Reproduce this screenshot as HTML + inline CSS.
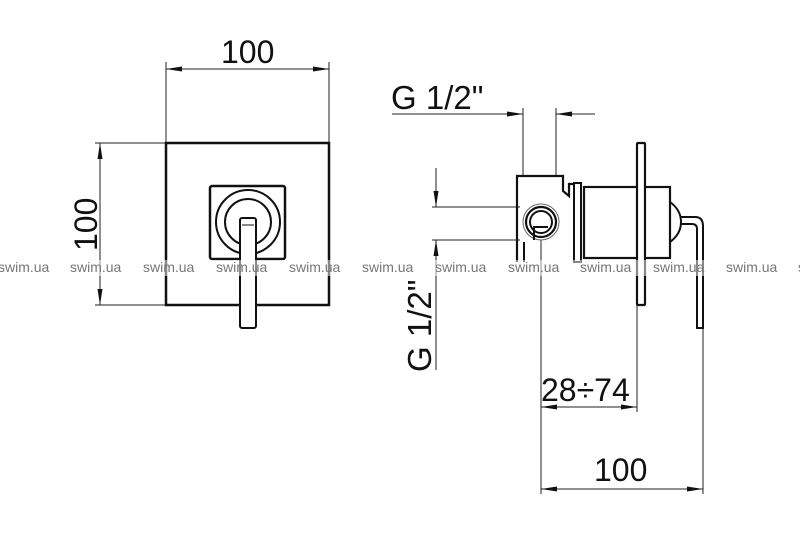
<!DOCTYPE html>
<html><head><meta charset="utf-8"><style>html,body{margin:0;padding:0;background:#fff}svg{display:block}</style></head>
<body>
<svg width="800" height="537" viewBox="0 0 800 537" xmlns="http://www.w3.org/2000/svg" font-family="Liberation Sans, sans-serif">
<defs>
<marker id="a" markerWidth="16" markerHeight="8" refX="16" refY="4" orient="auto-start-reverse" markerUnits="userSpaceOnUse">
<path d="M0,1.5 L16,4 L0,6.5 z" fill="#111"/></marker>
</defs>
<g stroke="#222" stroke-width="1" fill="none">
<line x1="166" y1="62" x2="166" y2="143"/><line x1="329" y1="62" x2="329" y2="143"/>
<line x1="166" y1="69" x2="329" y2="69" marker-start="url(#a)" marker-end="url(#a)"/>
<line x1="95" y1="143" x2="166" y2="143"/><line x1="95" y1="305" x2="166" y2="305"/>
<line x1="100" y1="143" x2="100" y2="305" marker-start="url(#a)" marker-end="url(#a)"/>
<line x1="392" y1="114" x2="523" y2="114" marker-end="url(#a)"/>
<line x1="595" y1="114" x2="556" y2="114" marker-end="url(#a)"/>
<line x1="523" y1="108" x2="523" y2="176"/><line x1="556" y1="108" x2="556" y2="176"/>
<line x1="432" y1="207" x2="520" y2="207"/><line x1="432" y1="240" x2="520" y2="240"/>
<line x1="436" y1="168" x2="436" y2="207" marker-end="url(#a)"/>
<line x1="436" y1="370" x2="436" y2="240" marker-end="url(#a)"/>
<line x1="541" y1="240" x2="541" y2="494"/>
<line x1="637" y1="305" x2="637" y2="412"/>
<line x1="703" y1="328" x2="703" y2="494"/>
<line x1="541" y1="407" x2="637" y2="407" marker-start="url(#a)" marker-end="url(#a)"/>
<line x1="541" y1="489" x2="703" y2="489" marker-start="url(#a)" marker-end="url(#a)"/>
</g>
<g stroke="#111" stroke-width="2.5" fill="none">
<rect x="166" y="143" width="163" height="162"/>
<rect x="210" y="186" width="75" height="73" rx="2"/>
<circle cx="248" cy="222" r="32" stroke-width="2"/>
<circle cx="248" cy="222" r="23" stroke-width="2"/>
<rect x="240" y="218" width="16" height="110" rx="2" fill="#fff" stroke-width="2"/>
<line x1="242" y1="225" x2="254" y2="225" stroke-width="1"/>
<path d="M517,262 V176 H563 V191 L569,196 V184 H575" stroke-width="2.2"/>
<line x1="524" y1="242" x2="524" y2="262" stroke-width="2"/>
<rect x="574" y="183" width="7" height="79" stroke-width="2"/>
<rect x="584" y="187" width="86" height="71" stroke-width="2.2"/>
<circle cx="541" cy="222" r="18" stroke-width="1" stroke="#666"/>
<circle cx="541" cy="222" r="15" stroke-width="2.2"/>
<circle cx="541" cy="222" r="11" stroke-width="2"/>
<path d="M534,240 V227 H548" stroke-width="2"/>
<rect x="637" y="143" width="8" height="162" rx="1" fill="#fff" stroke-width="2.2"/>
<path d="M670,202 Q681,210 681,222 Q681,234 670,242" stroke-width="2"/>
<path d="M680,217 H695 Q703,217 703,226 V328 H697 V229 Q697,224 692,224 H680" stroke-width="2"/>
</g>
<g fill="#111">
<text x="221" y="63" font-size="32">100</text>
<text transform="translate(97,251) rotate(-90)" font-size="32">100</text>
<text x="391" y="109" font-size="33">G 1/2"</text>
<text transform="translate(431,372) rotate(-90)" font-size="33">G 1/2"</text>
<text x="541" y="401" font-size="32">28÷74</text>
<text x="594" y="481" font-size="32">100</text>
</g>
<g font-size="14" fill="#777">
<rect x="0" y="260" width="800" height="16" fill="#fff" opacity="0.5"/>
<text x="-2" y="272">swim.ua</text><text x="70" y="272">swim.ua</text><text x="143" y="272">swim.ua</text>
<text x="216" y="272">swim.ua</text><text x="289" y="272">swim.ua</text><text x="362" y="272">swim.ua</text>
<text x="435" y="272">swim.ua</text><text x="508" y="272">swim.ua</text><text x="580" y="272">swim.ua</text>
<text x="653" y="272">swim.ua</text><text x="726" y="272">swim.ua</text><text x="798" y="272">swim.ua</text>
</g>
</svg>
</body></html>
